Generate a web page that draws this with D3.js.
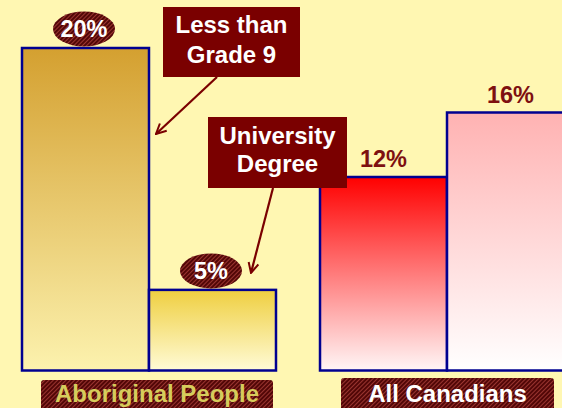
<!DOCTYPE html>
<html>
<head>
<meta charset="utf-8">
<script src="https://cdn.jsdelivr.net/npm/d3@7"></script>
<style>
  html, body { margin: 0; padding: 0; background: #fff7b2; }
  svg { display: block; }
  text { font-family: "Liberation Sans", Arial, sans-serif; font-weight: bold; }
</style>
</head>
<body>
<svg id="chart" width="562" height="408"></svg>
<script>
// Share of population by education level
const groups = ["Aboriginal People", "All Canadians"];
const levels = ["Less than Grade 9", "University Degree"];
const aboriginalValues = [20, 5];
const canadianValues = [12, 16];
const calloutLines = [["Less than", "Grade 9"], ["University", "Degree"]];

// Gradient colours for each bar (top -> bottom)
const barColors = [
  [["#d4a030", "#fcf2ae"], ["#efcf40", "#fffbd6"]],
  [["#ff0000", "#fff6f6"], ["#ffb2b2", "#ffffff"]]
];

const W = 562, H = 408;
const svg = d3.select("#chart");
const defs = svg.append("defs");

// Diagonal hatch used by the value ovals and group labels
const hatch = defs.append("pattern")
  .attr("id", "hatch").attr("patternUnits", "userSpaceOnUse")
  .attr("width", 3).attr("height", 3)
  .attr("patternTransform", "rotate(45)");
hatch.append("rect").attr("width", 3).attr("height", 3).attr("fill", "#520707");
hatch.append("rect").attr("width", 1).attr("height", 3).attr("fill", "#9a3530");

const arrowHead = defs.append("marker")
  .attr("id", "arrow").attr("viewBox", "0 -6 12 12")
  .attr("refX", 11).attr("refY", 0)
  .attr("markerWidth", 12).attr("markerHeight", 12)
  .attr("markerUnits", "userSpaceOnUse")
  .attr("orient", "auto");
arrowHead.append("path").attr("d", "M1,-5L11,0L1,5")
  .attr("fill", "none").attr("stroke", "#7a0000").attr("stroke-width", 2);

// Scales
const baseline = 370.5;
const y = d3.scaleLinear().domain([0, 20]).range([baseline, 48]);
const x0 = d3.scaleBand().domain(groups).range([22, 574]).paddingInner(0.1477).paddingOuter(0);
const x1 = d3.scaleBand().domain(levels).range([0, x0.bandwidth()]).padding(0);

const series = [aboriginalValues, canadianValues];
const bars = [];
groups.forEach((g, gi) => {
  series[gi].forEach((v, li) => {
    bars.push({ group: g, gi, level: levels[li], li, value: v,
      x: x0(g) + x1(levels[li]), w: x1.bandwidth(), y: y(v), h: baseline - y(v) });
  });
});

bars.forEach((b, i) => {
  const grad = defs.append("linearGradient")
    .attr("id", "g" + i).attr("x1", 0).attr("y1", 0).attr("x2", 0).attr("y2", 1);
  grad.append("stop").attr("offset", "0%").attr("stop-color", barColors[b.gi][b.li][0]);
  grad.append("stop").attr("offset", "100%").attr("stop-color", barColors[b.gi][b.li][1]);
});

svg.append("rect").attr("width", W).attr("height", H).attr("fill", "#fff7b2");

svg.append("g").selectAll("rect").data(bars).join("rect")
  .attr("x", d => d.x).attr("y", d => d.y)
  .attr("width", d => d.w).attr("height", d => d.h)
  .attr("fill", (d, i) => `url(#g${i})`)
  .attr("stroke", "#000090").attr("stroke-width", 2.5);

// Value labels: hatched ovals for the first group, plain text for the second
const labels = svg.append("g");
bars.forEach(b => {
  const cx = b.x + b.w / 2;
  if (b.gi === 0) {
    labels.append("ellipse")
      .attr("cx", cx - 1.5).attr("cy", b.y - 19)
      .attr("rx", 31).attr("ry", 17.5)
      .attr("fill", "url(#hatch)");
    labels.append("text")
      .attr("x", cx - 1.5).attr("y", b.y - 11)
      .attr("text-anchor", "middle").attr("font-size", 23.5)
      .attr("fill", "#ffffff").text(b.value + "%");
  } else {
    labels.append("text")
      .attr("x", cx).attr("y", b.y - 10)
      .attr("text-anchor", "middle").attr("font-size", 23.5)
      .attr("fill", "#7e1010").text(b.value + "%");
  }
});

// Callout boxes pointing at the first group's bars
const callouts = [
  { box: [163, 7, 137, 70], lines: calloutLines[0], base: [33, 63], bar: bars[0],
    from: [217, 77], tip: d => [d.x + d.w + 7, d.y + 86] },
  { box: [208, 117, 139, 71], lines: calloutLines[1], base: [144, 172], bar: bars[1],
    from: [273, 188], tip: d => [d.x + d.w - 25, d.y - 17] }
];

const cg = svg.append("g");
callouts.forEach(c => {
  const [bx, by, bw, bh] = c.box;
  cg.append("rect").attr("x", bx).attr("y", by).attr("width", bw).attr("height", bh)
    .attr("fill", "#7a0000");
  c.lines.forEach((t, i) => {
    cg.append("text").attr("x", bx + bw / 2).attr("y", c.base[i])
      .attr("text-anchor", "middle").attr("font-size", 24)
      .attr("fill", "#ffffff").text(t);
  });
  const [tx, ty] = c.tip(c.bar);
  cg.append("line")
    .attr("x1", c.from[0]).attr("y1", c.from[1])
    .attr("x2", tx).attr("y2", ty)
    .attr("stroke", "#7a0000").attr("stroke-width", 2.2)
    .attr("marker-end", "url(#arrow)");
});

// Group labels under each pair of bars
const groupLabels = [
  { name: groups[0], x: 41, w: 232, y: 380, color: "#d6cc5c" },
  { name: groups[1], x: 341, w: 213, y: 378, color: "#ffffff" }
];
const gl = svg.append("g");
groupLabels.forEach(g => {
  gl.append("rect").attr("x", g.x).attr("y", g.y).attr("width", g.w).attr("height", 40)
    .attr("rx", 3).attr("fill", "url(#hatch)");
  gl.append("text").attr("x", g.x + g.w / 2).attr("y", 402)
    .attr("text-anchor", "middle").attr("font-size", 24)
    .attr("fill", g.color).text(g.name);
});
</script>
</body>
</html>
